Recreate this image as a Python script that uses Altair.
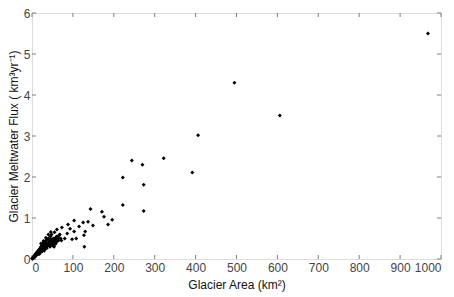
import altair as alt
import pandas as pd

# Dense cluster of small glaciers (km^2, km^3/yr)
cluster_x = [0.5, 1, 1.5, 2, 2.5, 3, 3, 4, 4, 5, 5, 6, 6, 7, 7, 8, 8, 9, 9, 10, 10, 11, 11, 12, 12,
             13, 13, 14, 14, 15, 15, 16, 16, 17, 17, 18, 18, 19, 19, 20, 20, 21, 21, 22, 22, 23, 23,
             24, 24, 25, 25, 26, 26, 27, 27, 28, 28, 29, 29, 30, 30, 31, 31, 32, 32, 33, 34, 34, 35,
             35, 36, 37, 37, 38, 39, 40, 40, 41, 42, 42, 43, 44, 45, 45, 46, 47, 48, 48, 50, 50, 52,
             52, 54, 55, 55, 57, 58, 60, 60, 62, 65, 70, 72, 18, 24, 30, 36, 44, 50, 56,
             2, 3.5, 5.5, 6.5, 8.5, 9.5, 11.5, 12.5, 14.5, 16.5, 19.5, 21.5, 23.5, 26.5, 28.5, 31.5,
             33.5, 36.5, 38.5, 41.5, 43.5, 46.5, 49, 51, 53, 56, 59, 63, 66, 46, 40, 34, 28, 22, 54, 58]
cluster_y = [0.005, 0.01, 0.02, 0.015, 0.03, 0.02, 0.04, 0.03, 0.05, 0.04, 0.06, 0.05, 0.08, 0.06,
             0.09, 0.07, 0.10, 0.08, 0.12, 0.09, 0.13, 0.10, 0.15, 0.11, 0.14, 0.12, 0.17, 0.13, 0.19,
             0.12, 0.16, 0.14, 0.20, 0.15, 0.22, 0.16, 0.24, 0.15, 0.20, 0.18, 0.26, 0.17, 0.22, 0.20,
             0.30, 0.19, 0.25, 0.22, 0.33, 0.20, 0.28, 0.24, 0.36, 0.22, 0.30, 0.25, 0.40, 0.27, 0.34,
             0.24, 0.31, 0.28, 0.42, 0.30, 0.36, 0.27, 0.32, 0.45, 0.30, 0.38, 0.34, 0.31, 0.48, 0.36,
             0.33, 0.40, 0.50, 0.37, 0.35, 0.44, 0.40, 0.38, 0.42, 0.55, 0.36, 0.44, 0.40, 0.60, 0.45,
             0.38, 0.42, 0.50, 0.47, 0.40, 0.65, 0.45, 0.52, 0.42, 0.55, 0.50, 0.45, 0.50, 0.45, 0.12,
             0.18, 0.20, 0.26, 0.30, 0.33, 0.36,
             0.03, 0.03, 0.05, 0.07, 0.09, 0.10, 0.12, 0.13, 0.15, 0.17, 0.19, 0.21, 0.23, 0.26, 0.28,
             0.30, 0.33, 0.35, 0.37, 0.40, 0.41, 0.48, 0.43, 0.47, 0.44, 0.48, 0.50, 0.46, 0.58, 0.66,
             0.60, 0.52, 0.44, 0.38, 0.30, 0.38]

# Larger glaciers
large_x = [61, 68, 73, 86, 88, 93, 103, 103, 108, 98, 115, 125, 137, 149, 127, 130, 128, 143, 171,
           176, 186, 196, 222, 222, 244, 270, 273, 273, 322, 392, 406, 495, 606, 968, 80, 64]
large_y = [0.72, 0.60, 0.77, 0.62, 0.84, 0.74, 0.94, 0.67, 0.50, 0.48, 0.79, 0.89, 0.91, 0.82, 0.58,
           0.67, 0.30, 1.22, 1.15, 1.03, 0.84, 0.96, 1.32, 1.99, 2.40, 2.30, 1.81, 1.17, 2.46, 2.11,
           3.02, 4.30, 3.50, 5.50, 0.50, 0.53]

x_ticks = [0, 100, 200, 300, 400, 500, 600, 700, 800, 900, 1000]
y_ticks = [0, 1, 2, 3, 4, 5, 6]

df = pd.DataFrame({"area": cluster_x + large_x, "flux": cluster_y + large_y})
xt = pd.DataFrame({"t": x_ticks})
yt = pd.DataFrame({"t": y_ticks})

W, H = 409, 246
FONT = "Liberation Sans"
GRAY = "#7f7f7f"
LBL = "#444444"

xscale = alt.Scale(domain=[0, 1000], nice=False)
yscale = alt.Scale(domain=[0, 6], nice=False)

points = alt.Chart(df).mark_point(filled=True, shape="diamond", size=16, color="black", opacity=1).encode(
    x=alt.X("area:Q", scale=xscale,
            axis=alt.Axis(values=x_ticks, format="d", title="Glacier Area (km²)", ticks=False,
                          domain=False, grid=False, labelPadding=3, titlePadding=6,
                          titleFontWeight="normal", labelFontSize=12, titleFontSize=12,
                          labelColor=LBL, titleColor="#111111", labelFont=FONT, titleFont=FONT)),
    y=alt.Y("flux:Q", scale=yscale,
            axis=alt.Axis(values=y_ticks, format="d", title="Glacier Meltwater Flux ( km³yr⁻¹)",
                          ticks=False, domain=False, grid=False, labelPadding=2, titlePadding=3,
                          titleFontWeight="normal", labelFontSize=12, titleFontSize=12,
                          labelColor=LBL, titleColor="#111111", labelFont=FONT, titleFont=FONT)),
)

tk = 4
xb = alt.Chart(xt).mark_rule(color=GRAY, strokeWidth=1).encode(
    x=alt.X("t:Q", scale=xscale), y=alt.value(H), y2=alt.value(H - tk))
xtop = alt.Chart(xt).mark_rule(color=GRAY, strokeWidth=1).encode(
    x=alt.X("t:Q", scale=xscale), y=alt.value(0), y2=alt.value(tk))
yl = alt.Chart(yt).mark_rule(color=GRAY, strokeWidth=1).encode(
    y=alt.Y("t:Q", scale=yscale), x=alt.value(0), x2=alt.value(tk))
yr = alt.Chart(yt).mark_rule(color=GRAY, strokeWidth=1).encode(
    y=alt.Y("t:Q", scale=yscale), x=alt.value(W), x2=alt.value(W - tk))

chart = alt.layer(xb, xtop, yl, yr, points).properties(
    width=W, height=H,
    autosize=alt.AutoSizeParams(type="none"),
    padding={"left": 24, "top": 5, "right": 5, "bottom": 38},
).configure_view(stroke=GRAY, strokeWidth=1).configure(background="white")

chart.save("out.html", embed_options={"renderer": "svg", "actions": False})
